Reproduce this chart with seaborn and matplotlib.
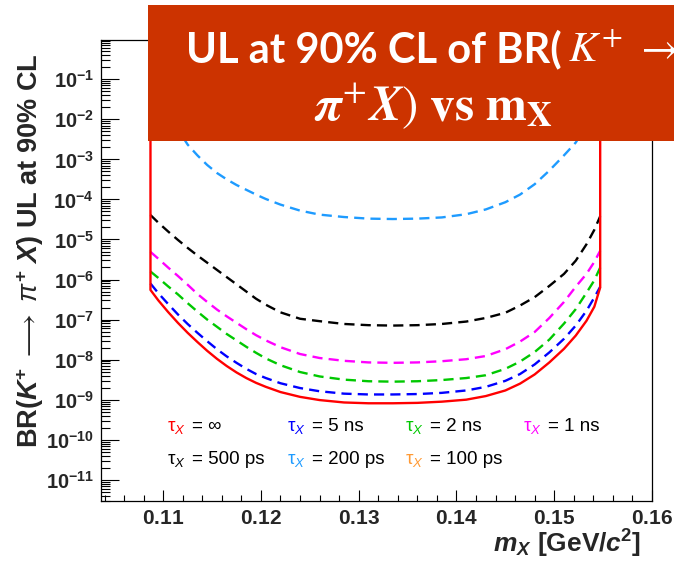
import numpy as np
import matplotlib
matplotlib.use("Agg")
import matplotlib.pyplot as plt
import seaborn as sns
from matplotlib.patches import Rectangle
from matplotlib.ticker import (LogLocator, MultipleLocator, FuncFormatter,
                               NullFormatter)
from matplotlib.transforms import offset_copy

# ---- data (log10 of the BR upper limit) ----
m_x = [0.1087, 0.1095, 0.1105, 0.1115, 0.1125, 0.1135, 0.1145, 0.1155,
       0.1165, 0.1175, 0.1185, 0.1195, 0.1205, 0.1220, 0.1240, 0.1260,
       0.1285, 0.1310, 0.1335, 0.1360, 0.1385, 0.1410, 0.1430, 0.1450,
       0.1465, 0.1480, 0.1495, 0.1510, 0.1522, 0.1533, 0.1541, 0.1547]

ul_inf = [-6.26, -6.52, -6.81, -7.08, -7.33, -7.56, -7.78, -7.98, -8.16, -8.32,
          -8.46, -8.58, -8.68, -8.81, -8.93, -9.01, -9.07, -9.09, -9.09, -9.08,
          -9.05, -9.00, -8.91, -8.77, -8.60, -8.37, -8.07, -7.73, -7.40, -7.03,
          -6.68, -6.20]
ul_5ns = [-6.10, -6.34, -6.61, -6.87, -7.11, -7.33, -7.54, -7.74, -7.92, -8.08,
          -8.23, -8.36, -8.46, -8.59, -8.71, -8.79, -8.85, -8.87, -8.87, -8.86,
          -8.83, -8.77, -8.68, -8.53, -8.36, -8.12, -7.82, -7.48, -7.15, -6.78,
          -6.45, -6.18]
ul_2ns = [-5.80, -5.96, -6.17, -6.37, -6.59, -6.80, -7.00, -7.18, -7.36, -7.52,
          -7.68, -7.83, -7.97, -8.14, -8.31, -8.42, -8.50, -8.54, -8.55, -8.54,
          -8.51, -8.46, -8.39, -8.23, -8.05, -7.81, -7.50, -7.10, -6.74, -6.33,
          -6.02, -5.70]
ul_1ns = [-5.31, -5.48, -5.70, -5.91, -6.13, -6.36, -6.56, -6.75, -6.92, -7.08,
          -7.24, -7.39, -7.52, -7.69, -7.86, -7.96, -8.03, -8.07, -8.08, -8.07,
          -8.04, -7.99, -7.91, -7.74, -7.55, -7.31, -6.96, -6.56, -6.18, -5.86,
          -5.56, -5.28]
ul_500ps = [-4.39, -4.58, -4.80, -5.01, -5.21, -5.40, -5.58, -5.76, -5.94, -6.12,
            -6.30, -6.48, -6.63, -6.82, -6.98, -7.04, -7.11, -7.14, -7.15, -7.14,
            -7.11, -7.05, -6.96, -6.83, -6.65, -6.44, -6.16, -5.86, -5.53, -5.12,
            -4.76, -4.42]
ul_200ps = [-0.60, -1.20, -1.75, -2.25, -2.63, -2.90, -3.14, -3.34, -3.50, -3.64,
            -3.76, -3.88, -3.99, -4.13, -4.28, -4.38, -4.44, -4.48, -4.49, -4.48,
            -4.45, -4.37, -4.25, -4.07, -3.88, -3.62, -3.28, -2.90, -2.58, -2.15,
            -1.70, -1.20]
ul_100ps = [0.30, 0.00, -0.40, -0.70, -0.95, -1.15, -1.30, -1.45, -1.58, -1.68,
            -1.76, -1.83, -1.89, -1.95, -2.00, -2.03, -2.05, -2.06, -2.06, -2.05,
            -2.03, -1.99, -1.93, -1.84, -1.74, -1.60, -1.42, -1.18, -0.92, -0.60,
            -0.25, 0.10]

tau_labels = ["\u221e", "5 ns", "2 ns", "1 ns", "500 ps", "200 ps", "100 ps"]
tau_colors = ["#ff0000", "#0000ff", "#00c800", "#ff00ff", "#000000",
              "#1e9bff", "#ff9933"]
curves = [ul_inf, ul_5ns, ul_2ns, ul_1ns, ul_500ps, ul_200ps, ul_100ps]

x_ticks = [0.11, 0.12, 0.13, 0.14, 0.15, 0.16]

# ---- style ----
sns.set_theme(style="ticks")
plt.rcParams["font.family"] = ["Liberation Sans", "DejaVu Sans"]
plt.rcParams["mathtext.fontset"] = "custom"
plt.rcParams["mathtext.rm"] = "Liberation Sans"
plt.rcParams["mathtext.it"] = "Liberation Sans:italic"
plt.rcParams["mathtext.bf"] = "Liberation Sans:bold"
try:
    plt.rcParams["mathtext.bfit"] = "Liberation Sans:italic:bold"
except KeyError:
    pass

fig = plt.figure(figsize=(6.74, 5.64), dpi=100)
ax = fig.add_axes([101 / 674, 1 - 501 / 564, 551 / 674, 461 / 564])

# dashed curves for finite lifetimes, then the solid tau = inf contour
for vals, col in list(zip(curves, tau_colors))[1:][::-1]:
    sns.lineplot(x=m_x, y=10.0 ** np.array(vals), ax=ax, color=col,
                 lw=1.7, linestyle=(0, (4.3, 2.6)), estimator=None,
                 sort=False, legend=False)

red_x = [m_x[0]] + m_x + [m_x[-1]]
red_y = [1.0] + list(10.0 ** np.array(ul_inf)) + [1.0]
sns.lineplot(x=red_x, y=red_y, ax=ax, color=tau_colors[0], lw=1.7,
             estimator=None, sort=False, legend=False)

ax.set_yscale("log")
ax.set_xlim(0.10364, 0.16 + 1e-9)
ax.set_ylim(10 ** -11.53, 10 ** -0.02)

ax.set_xticks(x_ticks)
ax.xaxis.set_minor_locator(MultipleLocator(0.002))
ax.xaxis.set_major_formatter(FuncFormatter(lambda v, p: r"$\mathbf{%.2f}$" % v))
ax.yaxis.set_major_locator(LogLocator(base=10, numticks=30))
ax.yaxis.set_minor_locator(LogLocator(base=10, subs=np.arange(2, 10), numticks=200))
ax.yaxis.set_major_formatter(
    FuncFormatter(lambda v, p: r"$\mathbf{10^{%d}}$" % round(np.log10(v))))
ax.yaxis.set_minor_formatter(NullFormatter())

ax.tick_params(axis="x", which="major", direction="in", length=8, width=0.8,
               top=False, labelsize=15, pad=6, color="black")
ax.tick_params(axis="x", which="minor", direction="in", length=4.5, width=0.8,
               top=False, color="black")
ax.tick_params(axis="y", which="major", direction="in", length=13, width=0.8,
               right=False, labelsize=14.5, pad=5, color="black")
ax.tick_params(axis="y", which="minor", direction="in", length=6.5, width=0.8,
               right=False, color="black")
for sp in ax.spines.values():
    sp.set_visible(True)
    sp.set_color("black")
    sp.set_linewidth(0.9)
ax.grid(False)

ax.set_ylabel(r"$\mathbf{BR(}\mathbfit{K}^{\mathbf{+}}\mathbf{\ }\longrightarrow\mathbf{\ }"
              r"\mathit{\pi}^{\mathbf{+}}\mathbf{\ }\mathbfit{X}"
              r"\mathbf{)\ UL\ at\ 90\%\ CL}$", fontsize=19.5, loc="top")
ax.yaxis.set_label_coords(-0.100, 0.972)
ax.set_xlabel(r"$\mathbfit{m}_{\mathbfit{X}}\mathbf{\ [GeV/}\mathbfit{c}"
              r"^{\mathbf{2}}\mathbf{]}$", fontsize=19, loc="right")
ax.xaxis.label.set_va("baseline")
ax.xaxis.set_label_coords(0.9795, -0.1125)

# lifetime labels
col_x = [0.1192, 0.337, 0.5517, 0.7653]
row_y = [0.1525, 0.0803]
shift = offset_copy(ax.transAxes, fig=fig, x=18, y=0, units="points")
for i, (lab, col) in enumerate(zip(tau_labels, tau_colors)):
    x, y = col_x[i % 4], row_y[i // 4]
    ax.text(x, y, r"$\mathrm{\tau}_{X}$", color=col, fontsize=13.5,
            transform=ax.transAxes, va="baseline", ha="left")
    ax.text(x, y, "= " + lab, color="black", fontsize=13.5,
            transform=shift, va="baseline", ha="left")

# slide title banner
fig.add_artist(Rectangle((147.5 / 674, 1 - 140.7 / 564), 0.8, 135.5 / 564,
                         transform=fig.transFigure, facecolor="#cc3300",
                         edgecolor="none", zorder=5))
fig.text(185.5 / 674, 1 - 62 / 564, "UL at 90% CL of BR(", family="Lato",
         weight="bold", size=30, color="white", va="baseline", zorder=6)
fig.text(568 / 674, 1 - 62 / 564, r"$K^{+}\ \rightarrow$", math_fontfamily="stix",
         size=31, color="white", va="baseline", zorder=6)
fig.text(314 / 674, 1 - 120 / 564,
         r"$\mathbfit{\pi}^{+}\mathbfit{X})\ \mathbf{vs\ m_{X}}$",
         math_fontfamily="stix", size=35.5, color="white", va="baseline", zorder=6)

fig.savefig("out.png", dpi=100)
